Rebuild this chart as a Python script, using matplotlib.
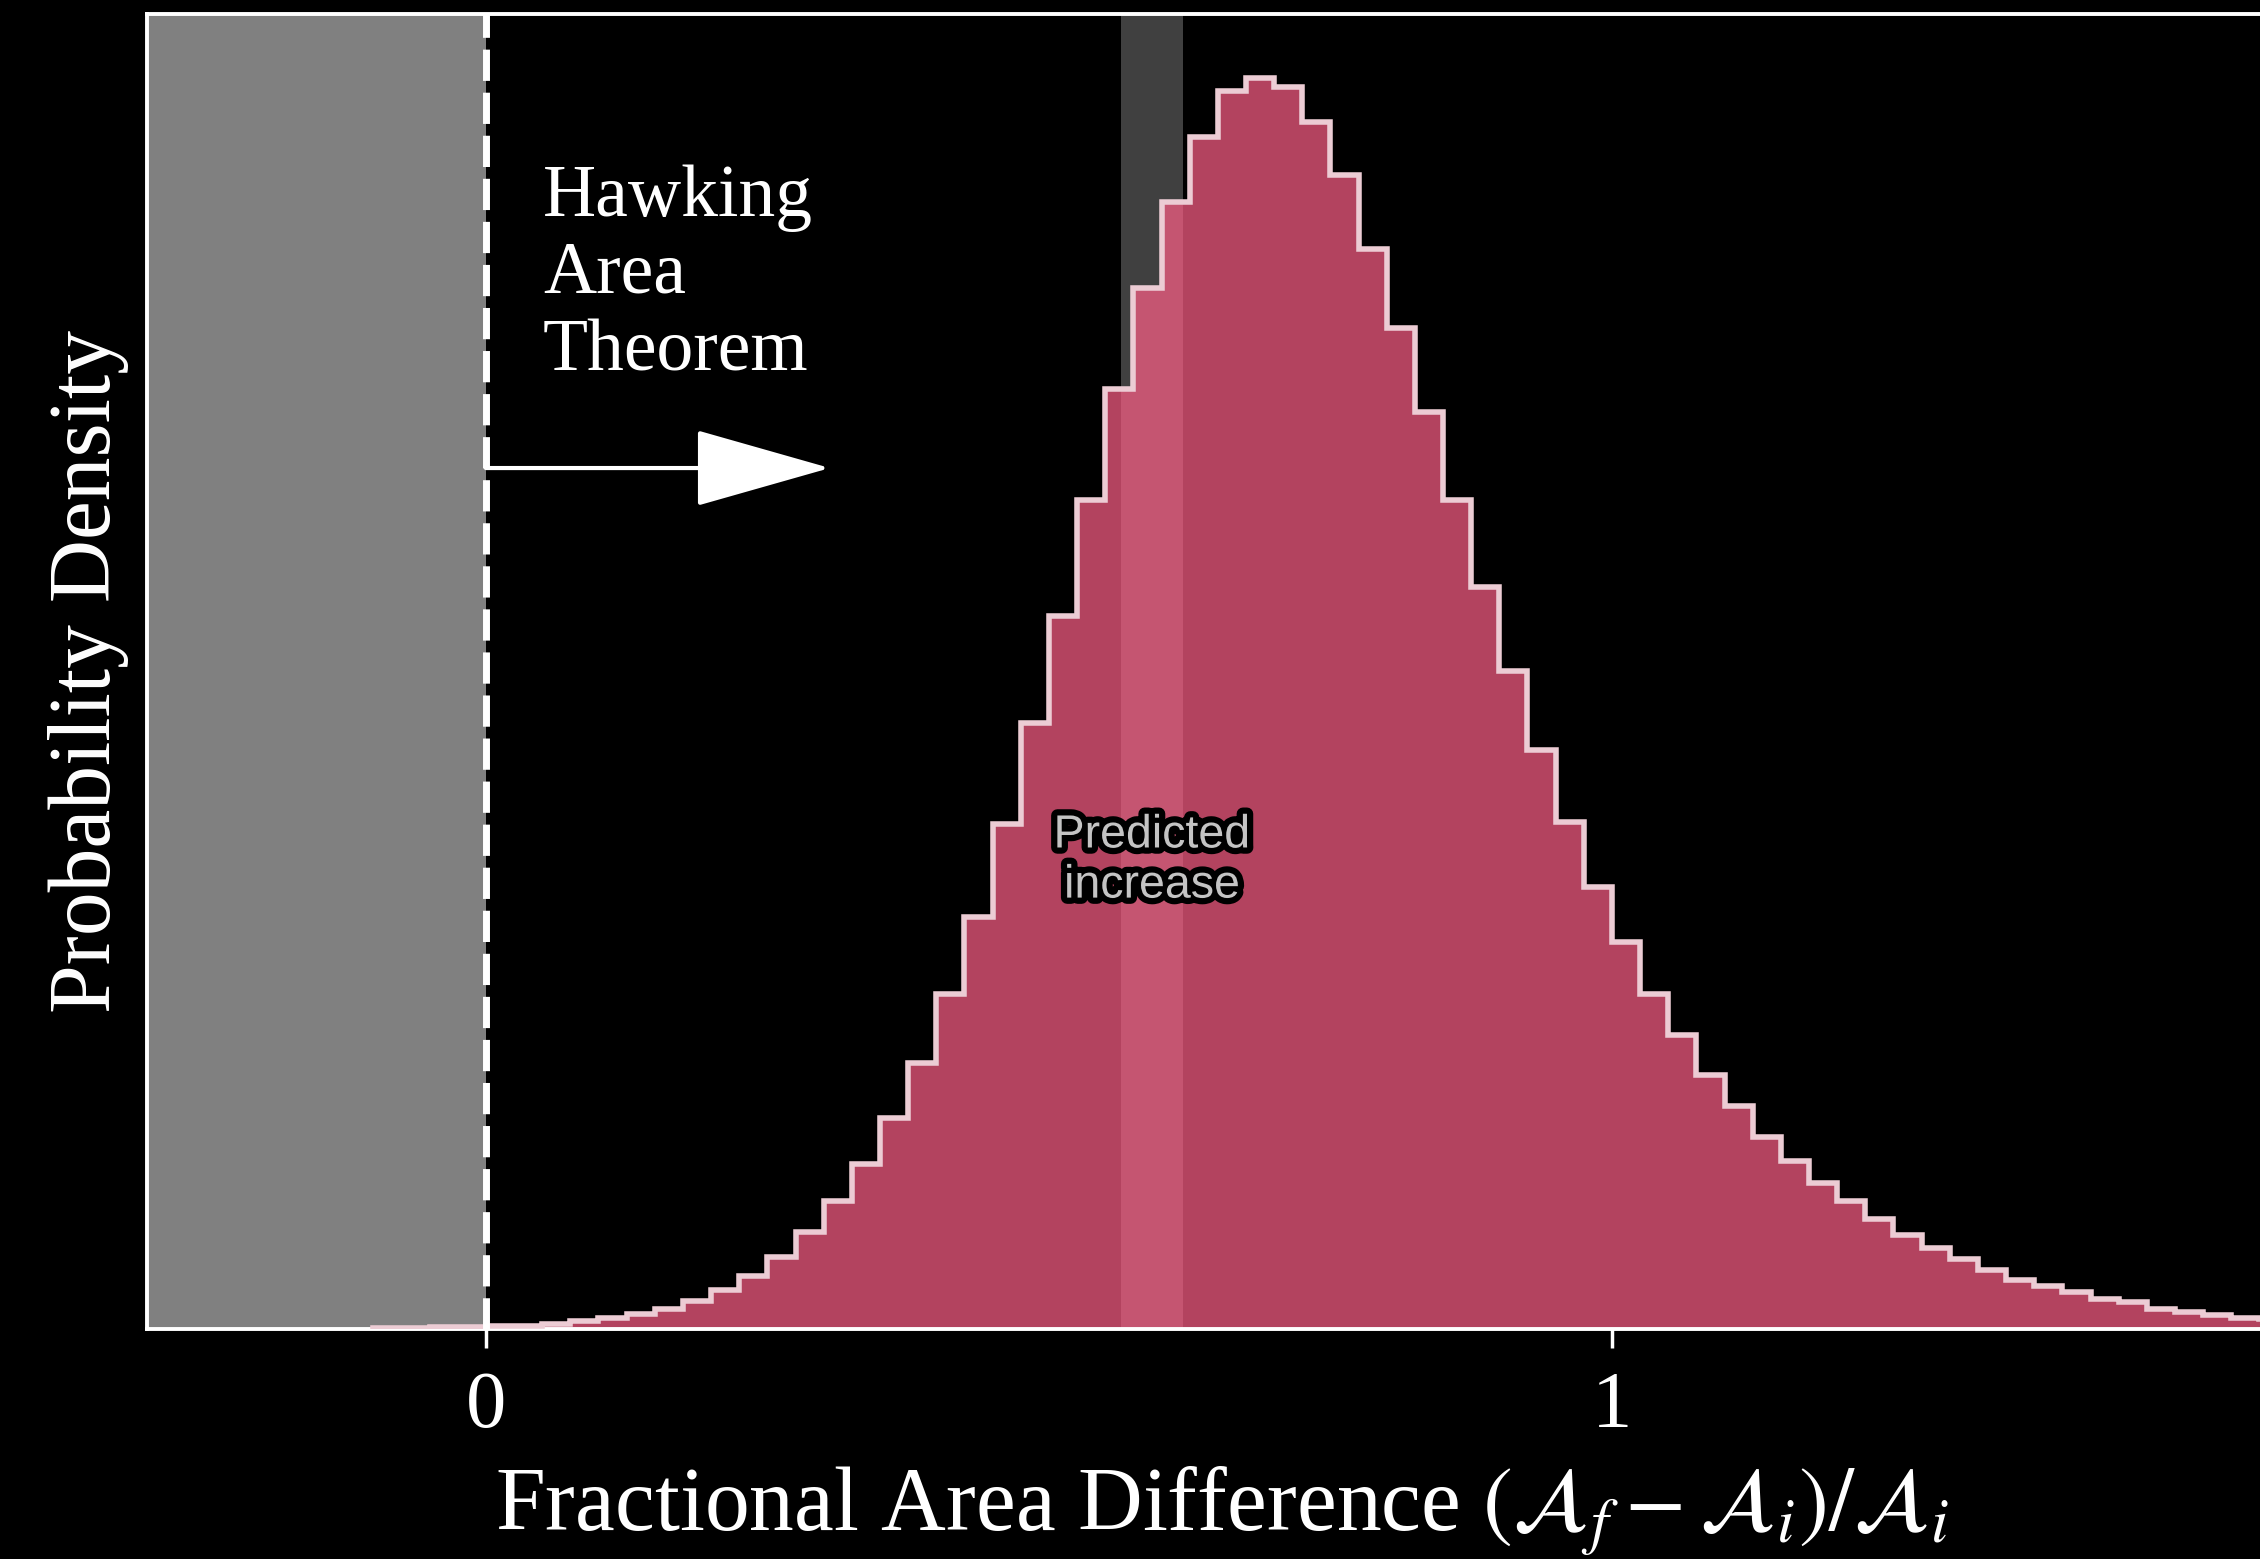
#!/usr/bin/env python
# Hawking area theorem: posterior of fractional area change

import numpy as np
import matplotlib
matplotlib.use('Agg')
import matplotlib.pyplot as plt
import matplotlib.patheffects as pe

plt.rcParams['font.family'] = ['Liberation Serif', 'DejaVu Serif']
plt.rcParams['mathtext.fontset'] = 'stix'

# histogram (bin width 0.025)
bin_lo = -0.1
bin_w = 0.025
density = [0.002, 0.003, 0.004, 0.005, 0.006, 0.007, 0.010, 0.016,
           0.022, 0.030, 0.040, 0.056, 0.078, 0.106, 0.144, 0.194,
           0.256, 0.330, 0.422, 0.532, 0.670, 0.824, 1.010, 1.212,
           1.426, 1.658, 1.880, 2.082, 2.254, 2.384, 2.476, 2.502,
           2.484, 2.414, 2.308, 2.160, 2.002, 1.834, 1.658, 1.484,
           1.316, 1.158, 1.014, 0.884, 0.774, 0.670, 0.588, 0.508,
           0.446, 0.384, 0.336, 0.292, 0.256, 0.220, 0.188, 0.162,
           0.140, 0.118, 0.098, 0.086, 0.074, 0.060, 0.054, 0.040,
           0.034, 0.028, 0.022, 0.020]
predicted = (0.5637, 0.6193)
xticks = [0, 1]

edges = bin_lo + bin_w * np.arange(len(density) + 1)
xlim = (-0.301, 1.5755)
ylim = (0, 2.63)

fig = plt.figure(figsize=(22.6, 15.59), dpi=100, facecolor='black')
ax = fig.add_axes([0.065, 0.1475, 0.935, 0.8435])
ax.set_facecolor('black')

ax.axvspan(xlim[0], 0, color='#808080', lw=0, zorder=0)
ax.axvspan(predicted[0], predicted[1], color='#404040', lw=0, zorder=1)

ax.stairs(density, edges, fill=True, color=(249/255, 94/255, 133/255),
          alpha=0.72, lw=0, zorder=2)
ax.stairs(density, edges, color='#ecccd4', lw=4, zorder=3)

ax.axvline(0, color='white', lw=5, dashes=(4.5, 1.7), zorder=4)

ax.annotate('', xy=(0.3055, 1.722), xytext=(0, 1.722),
            arrowprops=dict(arrowstyle='-|>,head_length=0.88,head_width=0.25',
                            color='white', lw=3, shrinkA=0, shrinkB=0,
                            mutation_scale=100),
            zorder=5)
ax.text(0.0506, 2.33, 'Hawking\nArea\nTheorem', color='white', fontsize=53,
        ha='left', va='top', linespacing=1.19, zorder=5)

ax.text(np.mean(predicted), 0.937, 'Predicted\nincrease', color='#c4c4c4',
        family='Liberation Sans', fontsize=33.5, ha='center', va='center',
        linespacing=1.18, zorder=6,
        path_effects=[pe.Stroke(linewidth=9, foreground='black'), pe.Normal()])

ax.set_xlim(*xlim)
ax.set_ylim(*ylim)
ax.set_xticks(xticks)
ax.set_xticklabels([str(t) for t in xticks])
ax.set_yticks([])
ax.tick_params(axis='x', colors='white', length=14, width=2.5, pad=16,
               labelsize=58)
for s in ['left', 'top', 'bottom']:
    ax.spines[s].set_color('white')
    ax.spines[s].set_linewidth(2.8)
ax.spines['right'].set_visible(False)

ax.set_xlabel(r'Fractional Area Difference $(\mathcal{A}_f - \mathcal{A}_i)/\mathcal{A}_i$',
              color='white', fontsize=64.5, labelpad=15)
ax.xaxis.label.set_x(0.509)
ax.set_ylabel('Probability Density', color='white', fontsize=63, labelpad=13)

fig.savefig('out.png', dpi=100, facecolor='black')
